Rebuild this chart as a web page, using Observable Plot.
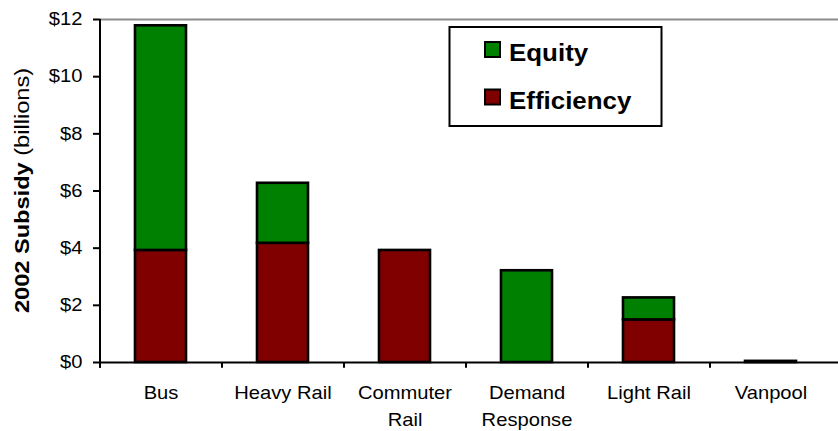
<!DOCTYPE html>
<html>
<head>
<meta charset="utf-8">
<script src="https://cdn.jsdelivr.net/npm/d3@7"></script>
<script src="https://cdn.jsdelivr.net/npm/@observablehq/plot@0.6"></script>
<style>
  html, body { margin: 0; padding: 0; background: #fff; }
  #chart svg { display: block; }
</style>
</head>
<body>
<div id="chart"></div>
<script>
// ---- data ----
const modes = ["Bus", "Heavy Rail", "Commuter Rail", "Demand Response", "Light Rail", "Vanpool"];
const modeLabels = ["Bus", "Heavy Rail", "Commuter\nRail", "Demand\nResponse", "Light Rail", "Vanpool"];
const efficiency = [3.92, 4.17, 3.92, 0, 1.49, 0.04];
const equity = [7.86, 2.10, 0, 3.21, 0.77, 0];
const seriesNames = ["Equity", "Efficiency"];
const seriesColors = ["#008000", "#800000"];
const yTicks = [0, 2, 4, 6, 8, 10, 12];
const yTitleBold = "2002 Subsidy";
const yTitleRest = " (billions)";

// ---- build rows (efficiency stacked under equity) ----
const rows = [];
modes.forEach((m, i) => {
  if (efficiency[i] > 0) rows.push({mode: m, series: "Efficiency", y1: 0, y2: efficiency[i]});
  if (equity[i] > 0) rows.push({mode: m, series: "Equity", y1: efficiency[i], y2: efficiency[i] + equity[i]});
});

const FONT = "'Liberation Sans', Arial, Helvetica, sans-serif";
const xRange = [100, 832];
const step = (xRange[1] - xRange[0]) / modes.length;
const stretch = 1.12;

const plot = Plot.plot({
  width: 838,
  height: 431,
  marginTop: 19,
  marginBottom: 69,
  marginLeft: 100,
  marginRight: 0,
  style: {fontFamily: FONT, fontSize: "18px", background: "#fff", color: "#000", overflow: "visible"},
  x: {domain: modes, range: xRange, paddingInner: 0.58, paddingOuter: 0.29, label: null, axis: null},
  y: {domain: [0, 12], label: null, axis: null},
  color: {domain: seriesNames, range: seriesColors},
  marks: [
    Plot.ruleY([12], {stroke: "#8c8c8c", strokeWidth: 2}),
    Plot.barY(rows, {x: "mode", y1: "y1", y2: "y2", fill: "series", stroke: "#000", strokeWidth: 2.6}),
    Plot.ruleY([0], {stroke: "#000", strokeWidth: 2}),
    // left axis line
    Plot.ruleX([modes[0]], {x: d => d, dx: -step / 2, y1: -0.2, y2: 12, stroke: "#000", strokeWidth: 2}),
    // category boundary ticks
    Plot.ruleX(modes, {x: d => d, dx: -step / 2, y1: 0, y2: -0.2, stroke: "#000", strokeWidth: 2}),
    Plot.axisY(yTicks, {
      tickFormat: d => "$" + d, tickSize: 7, tickPadding: 11, strokeWidth: 2, stroke: "#000",
      fontSize: 18, label: null
    }),
    Plot.axisX(modes, {
      tickFormat: d => modeLabels[modes.indexOf(d)], tickSize: 0, tickPadding: 17,
      fontSize: 18, lineHeight: 1.52, label: null
    })
  ]
});

document.getElementById("chart").appendChild(plot);

// stretch axis texts horizontally to mimic the wider original rendering
const svg = d3.select(plot);
svg.selectAll("g[aria-label='y-axis tick label'] text, g[aria-label='x-axis tick label'] text").each(function () {
  const t = this.getAttribute("transform") || "";
  this.setAttribute("transform", t + ` scale(${stretch},1)`);
});

// y-axis title (mixed weight)
const title = svg.append("text")
  .attr("transform", `translate(29,${(19 + 362) / 2}) rotate(-90) scale(1.18,1)`)
  .attr("text-anchor", "middle")
  .attr("font-family", FONT)
  .attr("font-size", 20)
  .attr("fill", "#000");
title.append("tspan").attr("font-weight", "bold").text(yTitleBold);
title.append("tspan").text(yTitleRest);

// legend
const lg = svg.append("g").attr("font-family", FONT).attr("text-anchor", "start");
lg.append("rect").attr("x", 449.5).attr("y", 27).attr("width", 212).attr("height", 99)
  .attr("fill", "#fff").attr("stroke", "#000").attr("stroke-width", 2);
const legendRows = [{name: "Equity", sy: 42, base: 61}, {name: "Efficiency", sy: 89.5, base: 108.5}];
legendRows.forEach(r => {
  const i = seriesNames.indexOf(r.name);
  lg.append("rect").attr("x", 485).attr("y", r.sy).attr("width", 15).attr("height", 15)
    .attr("fill", seriesColors[i]).attr("stroke", "#000").attr("stroke-width", 2);
  lg.append("text").attr("transform", `translate(509,${r.base}) scale(1.08,1)`)
    .attr("text-anchor", "start")
    .attr("font-size", 24).attr("font-weight", "bold").attr("fill", "#000").text(r.name);
});
</script>
</body>
</html>
